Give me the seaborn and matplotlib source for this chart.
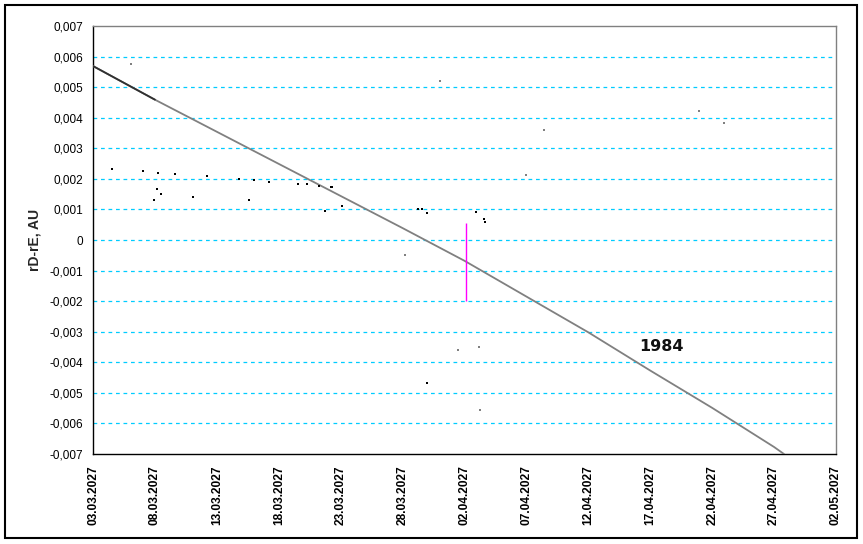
import pandas as pd
import matplotlib
matplotlib.use("Agg")
import matplotlib.pyplot as plt
import matplotlib.dates as mdates
from matplotlib.patches import Rectangle
from matplotlib.ticker import FixedLocator, FuncFormatter
import seaborn as sns

# --- data (days counted from 03.03.2027) ---
start = pd.Timestamp("2027-03-03")

line_days = [0, 5, 10, 15, 20, 25, 30, 35, 40, 45, 50, 55, 55.8]
line_vals = [0.00569, 0.00459, 0.00354, 0.00249, 0.00144, 0.00039, -0.00068,
             -0.00185, -0.00302, -0.00427, -0.00549, -0.00677, -0.0070]

dark_days = [1.53, 4.01, 5.23, 6.60, 9.21, 11.77, 13.0, 14.24, 16.53, 5.15, 5.49,
             4.90, 8.10, 12.58, 17.31, 18.28, 19.2, 19.33, 18.74, 20.11, 26.28,
             26.6, 26.95, 30.91, 31.61, 31.69, 27.0]
dark_vals = [0.00232, 0.00226, 0.00219, 0.00216, 0.00210, 0.00200, 0.00197, 0.00189,
             0.00183, 0.00167, 0.00151, 0.00131, 0.00141, 0.00131, 0.00183, 0.00178,
             0.00175, 0.00175, 0.00095, 0.00112, 0.00102, 0.00102, 0.00088, 0.00090,
             0.00069, 0.00060, -0.00467]

grey_days = [3.05, 28.05, 36.45, 35.0, 25.23, 48.97, 50.95, 29.5, 31.2, 31.28]
grey_vals = [0.00576, 0.00521, 0.00361, 0.00214, -0.00049, 0.00422, 0.00382,
             -0.00361, -0.00351, -0.00555]

seg_day = 30.1
seg_top, seg_bottom = 0.00055, -0.0020

label_text = "1984"
label_day, label_val = 45.9, -0.00348

y_ticks = [i / 1000 for i in range(-7, 8)]
x_tick_days = list(range(0, 61, 5))


def to_dates(days):
    return start + pd.to_timedelta(days, unit="D")


line_df = pd.DataFrame({"date": to_dates(line_days), "val": line_vals})
dark_df = pd.DataFrame({"date": to_dates(dark_days), "val": dark_vals})
grey_df = pd.DataFrame({"date": to_dates(grey_days), "val": grey_vals})

# --- plot ---
sns.set_style("white")
plt.rcParams["font.family"] = ["Liberation Sans", "DejaVu Sans"]

fig = plt.figure(figsize=(8.63, 5.44), dpi=100)
ax = fig.add_axes([0.1078, 0.1654, 0.8609, 0.7868])

# outer frame
fig.patches.append(Rectangle((0.006, 0.011), 0.987, 0.980, transform=fig.transFigure,
                             fill=False, edgecolor="black", linewidth=1.5))

for v in y_ticks[1:-1]:
    ax.axhline(v, color="#00CCFF", linestyle=(0, (3, 3)), linewidth=0.9, zorder=0)

sns.lineplot(data=line_df, x="date", y="val", ax=ax, color="#808080",
             linewidth=1.3, zorder=3)
sns.lineplot(data=line_df.iloc[:2], x="date", y="val", ax=ax, color="#303030",
             linewidth=1.3, zorder=4)
sns.scatterplot(data=dark_df, x="date", y="val", ax=ax, color="black", marker="s",
                s=2.5, linewidth=0, zorder=5)
sns.scatterplot(data=grey_df, x="date", y="val", ax=ax, color="#808080", marker="s",
                s=2.5, linewidth=0, zorder=5)

seg_date = to_dates([seg_day])[0]
ax.vlines(seg_date, seg_bottom, seg_top, color="#FF00FF", linewidth=1.0, zorder=6)

ax.text(to_dates([label_day])[0], label_val, label_text, fontsize=11.5,
        fontweight="bold", family="DejaVu Sans", color="#111111",
        ha="center", va="center")

ax.set_xlim(start, start + pd.Timedelta(days=60))
ax.set_ylim(-0.007, 0.007)
ax.xaxis.set_major_locator(FixedLocator(mdates.date2num(to_dates(x_tick_days))))
ax.xaxis.set_major_formatter(mdates.DateFormatter("%d.%m.%Y"))
ax.yaxis.set_major_locator(FixedLocator(y_ticks))
ax.yaxis.set_major_formatter(FuncFormatter(
    lambda v, p: "0" if abs(v) < 1e-12 else f"{v:.3f}".replace(".", ",")))

ax.tick_params(axis="x", direction="out", length=4, width=1, colors="black",
               labelsize=8.6, rotation=90, pad=4)
ax.tick_params(axis="y", direction="out", length=4, width=1, colors="black",
               labelsize=8.5, pad=3)
for lbl in ax.get_xticklabels():
    lbl.set_fontweight("bold")

ax.set_xlabel("")
ax.set_ylabel("rD-rE, AU", fontsize=10, fontweight="bold", labelpad=6)

ax.spines["left"].set_color("black")
ax.spines["bottom"].set_color("black")
ax.spines["top"].set_color("#808080")
ax.spines["right"].set_color("#808080")
for s in ax.spines.values():
    s.set_linewidth(1.0)

fig.savefig("out.png", dpi=100)
